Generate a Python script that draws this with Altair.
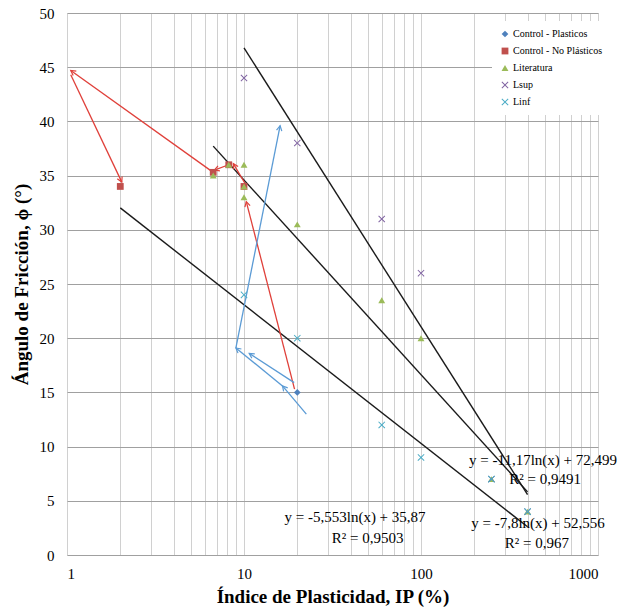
import math
import pandas as pd
import altair as alt

FONT = "Liberation Serif"

# ---------------- data ----------------
series_names = ["Control - Plasticos", "Control - No Plásticos", "Literatura", "Lsup", "Linf"]
series_colors = ["#4F81BD", "#C0504D", "#9BBB59", "#8064A2", "#4BACC6"]

cp_ip = [20]
cp_phi = [15]
cnp_ip = [2, 6.7, 8.2, 10]
cnp_phi = [34, 35.3, 36, 34]
lit_ip = [6.7, 8.2, 10, 10, 10, 20, 60, 100, 250, 400]
lit_phi = [35, 36, 36, 34, 33, 30.5, 23.5, 20, 7, 4]
lsup_ip = [10, 20, 60, 100, 250, 400]
lsup_phi = [44, 38, 31, 26, 7, 4]
linf_ip = [10, 20, 60, 100, 250, 400]
linf_phi = [24, 20, 12, 9, 7, 4]

# trend lines (logarithmic fits printed on the chart): y = a ln(x) + b
trend_a = [-11.17, -7.8, -5.553]
trend_b = [72.499, 52.556, 35.87]
trend_x0 = [10, 6.7, 2]
trend_x1 = [400, 400, 400]

# arrows (from -> to)
arrow_color = ["red", "red", "red", "red", "red", "blue", "blue", "blue", "blue"]
arrow_x0 = [6.7, 1.05, 8.2, 10.2, 19.3, 22.5, 16.5, 19.2, 9.0]
arrow_y0 = [35.3, 44.3, 36.0, 34.2, 15.3, 13.0, 15.6, 15.9, 19.1]
arrow_x1 = [1.05, 2.04, 6.8, 8.7, 10.3, 16.5, 9.0, 10.7, 16.0]
arrow_y1 = [44.7, 34.4, 35.5, 36.1, 32.6, 15.6, 19.1, 18.6, 39.6]
arrow_palette = {"red": "#E0403A", "blue": "#5B9BD5"}

# annotations
ann_text = ["y = -11,17ln(x) + 72,499", "R² = 0,9491",
            "y = -7,8ln(x) + 52,556", "R² = 0,967",
            "y = -5,553ln(x) + 35,87", "R² = 0,9503"]
ann_x = [489, 502, 458, 452, 42.4, 50]
ann_y = [8.8, 7.0, 2.95, 1.1, 3.5, 1.6]

x_tick_values = [1, 2, 3, 4, 5, 6, 7, 8, 9, 10, 20, 30, 40, 50, 60, 70, 80, 90,
                 100, 200, 300, 400, 500, 600, 700, 800, 900, 1000]
y_tick_values = [0, 5, 10, 15, 20, 25, 30, 35, 40, 45, 50]

# ---------------- layout ----------------
W, H = 531, 542
PX_DEC = W / 3.0
PX_UNIT = H / 50.0

# ---------------- tables ----------------
rows = []
for name, xs_, ys_ in zip(series_names,
                          [cp_ip, cnp_ip, lit_ip, lsup_ip, linf_ip],
                          [cp_phi, cnp_phi, lit_phi, lsup_phi, linf_phi]):
    for xv, yv in zip(xs_, ys_):
        rows.append({"ip": xv, "phi": yv, "serie": name})
pts = pd.DataFrame(rows)

trows = []
for i, (a, b, x0, x1) in enumerate(zip(trend_a, trend_b, trend_x0, trend_x1)):
    for xv in (x0, x1):
        trows.append({"ip": xv, "phi": a * math.log(xv) + b, "g": i})
trend = pd.DataFrame(trows)

arows = []
for c, x0, y0, x1, y1 in zip(arrow_color, arrow_x0, arrow_y0, arrow_x1, arrow_y1):
    dx = (math.log10(x1) - math.log10(x0)) * PX_DEC
    dy = -(y1 - y0) * PX_UNIT
    ang = math.degrees(math.atan2(dx, -dy)) % 360
    arows.append({"x0": x0, "y0": y0, "x1": x1, "y1": y1,
                  "col": arrow_palette[c], "ang": ang})
arrows = pd.DataFrame(arows)

ann = pd.DataFrame({"t": ann_text, "x": ann_x, "y": ann_y})

# ---------------- scales ----------------
xs = alt.Scale(type="log", domain=[1, 1000], nice=False)
ys = alt.Scale(domain=[0, 50], nice=False)

x_axis = alt.Axis(
    values=x_tick_values,
    labelExpr="datum.value == 1 || datum.value == 10 || datum.value == 100 || datum.value == 1000 ? datum.value : ''",
    grid=True, gridColor="#d0d0d0", gridWidth=1, ticks=False, domain=False,
    labelFont=FONT, labelFontSize=15, labelColor="#000", labelPadding=11,
    title="Índice de Plasticidad, IP (%)", titleFont=FONT, titleFontSize=19,
    titleFontWeight="bold", titleColor="#000", titlePadding=6,
)
y_axis = alt.Axis(
    values=y_tick_values, grid=True, gridColor="#a0a0a0", gridWidth=1,
    ticks=False, domain=False,
    labelFont=FONT, labelFontSize=15, labelColor="#000", labelPadding=13,
    title="Ángulo de Fricción, ϕ (°)", titleFont=FONT, titleFontSize=19,
    titleFontWeight="bold", titleColor="#000", titlePadding=8,
)

X_PATH = "M-1,-0.8L-0.8,-1L0,-0.2L0.8,-1L1,-0.8L0.2,0L1,0.8L0.8,1L0,0.2L-0.8,1L-1,0.8L-0.2,0Z"
CHEVRON = "M-0.6,1.1L0,0L0.6,1.1"

trend_layer = alt.Chart(trend).mark_line(color="#1a1a1a", strokeWidth=1.4).encode(
    x=alt.X("ip:Q", scale=xs, axis=x_axis),
    y=alt.Y("phi:Q", scale=ys, axis=y_axis),
    detail="g:N",
)

arrow_lines = alt.Chart(arrows).mark_rule(strokeWidth=1.3).encode(
    x=alt.X("x0:Q", scale=xs), y=alt.Y("y0:Q", scale=ys),
    x2="x1:Q", y2="y1:Q",
    color=alt.Color("col:N", scale=None),
)

arrow_heads = alt.Chart(arrows).mark_point(shape=CHEVRON, filled=False, size=80,
                                            strokeWidth=1.2, opacity=1).encode(
    x=alt.X("x1:Q", scale=xs), y=alt.Y("y1:Q", scale=ys),
    angle=alt.Angle("ang:Q", scale=None),
    color=alt.Color("col:N", scale=None),
)

legend = alt.Legend(title=None, orient="none", legendX=425, legendY=8,
                    fillColor="white", padding=8, rowPadding=7,
                    labelFont=FONT, labelFontSize=10, labelColor="#000",
                    symbolSize=36, labelOffset=3, symbolStrokeWidth=0)

points = alt.Chart(pts).mark_point(filled=True, opacity=1).encode(
    x=alt.X("ip:Q", scale=xs), y=alt.Y("phi:Q", scale=ys),
    color=alt.Color("serie:N", sort=series_names,
                    scale=alt.Scale(domain=series_names, range=series_colors),
                    legend=legend),
    shape=alt.Shape("serie:N", sort=series_names,
                    scale=alt.Scale(domain=series_names,
                                    range=["diamond", "square", "triangle-up", X_PATH, X_PATH]),
                    legend=legend),
    size=alt.Size("serie:N", sort=series_names,
                  scale=alt.Scale(domain=series_names, range=[45, 50, 70, 70, 70]),
                  legend=None),
    order=alt.Order("ord:Q"),
).transform_calculate(
    ord="indexof(%s, datum.serie)" % str(series_names)
)

labels = alt.Chart(ann).mark_text(font=FONT, fontSize=15, color="#000", align="center",
                                  baseline="middle").encode(
    x=alt.X("x:Q", scale=xs), y=alt.Y("y:Q", scale=ys), text="t:N",
)

chart = alt.layer(trend_layer, arrow_lines, arrow_heads, points, labels).properties(
    width=W, height=H,
    autosize=alt.AutoSizeParams(type="none"),
    padding={"left": 67, "top": 13, "right": 38, "bottom": 59},
).configure_view(stroke="#a0a0a0", strokeWidth=1).configure_legend(
    labelFont=FONT, labelFontSize=10, labelColor="#000"
).configure(background="white", font=FONT)

chart.save("out.html", embed_options={"renderer": "svg", "actions": False})
